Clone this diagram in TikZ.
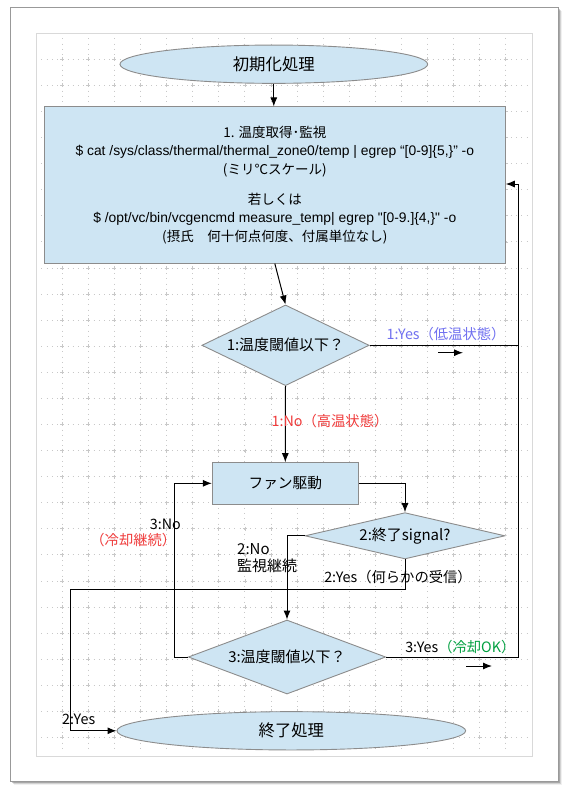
\documentclass[tikz,border=0pt]{standalone}
\usepackage{fontspec}
\setmainfont{Noto Sans CJK JP}
\newfontfamily\arialf{Liberation Sans}[Ligatures=TeXOff]
\usetikzlibrary{shapes.geometric,arrows.meta}
\definecolor{boxfill}{HTML}{CEE5F3}
\definecolor{boxdraw}{HTML}{8C8C8C}
\definecolor{gridc}{HTML}{C8C8C8}
\definecolor{yesblue}{HTML}{7070F0}
\definecolor{nored}{HTML}{F03C3C}
\definecolor{okgreen}{HTML}{00A040}
\begin{document}
\begin{tikzpicture}[x=1pt,y=-1pt,
  base/.style={draw=boxdraw, fill=boxfill, line width=0.9pt, inner sep=0pt},
  proc/.style={base, rectangle},
  term/.style={base, ellipse},
  dec/.style={base, diamond},
  arr/.style={line width=1pt, -{Latex[length=9pt,width=7pt]}},
  ln/.style={line width=1pt},
  lbl/.style={inner sep=0pt, font=\fontsize{14.3}{16}\selectfont},
  gridline/.style={gridc, line width=0.8pt, dash pattern=on 1pt off 4.216pt},
]
\useasboundingbox (0,0) rectangle (575,796);
\fill[white] (0,0) rectangle (575,796);
% page shadow
\foreach \i/\o in {1/0.30,2/0.20,3/0.12,4/0.06}{
  \fill[black,opacity=\o] (10+\i,7.3+\i) rectangle (558.3+\i,781+\i);
}
\draw[draw=black!40, fill=white, line width=1pt] (10,7.3) rectangle (558.3,781);
\draw[draw=black!15, line width=1pt] (36,33.3) rectangle (532.3,756);
% grid
\foreach \k in {0,...,17}{
  \draw[gridline] ({62.3+26.08*\k},38.44) -- ({62.3+26.08*\k},752);
}
\foreach \k in {0,...,26}{
  \draw[gridline] (41.44,{59.3+26.08*\k}) -- (528,{59.3+26.08*\k});
}
\foreach \i in {0,...,17}{
  \foreach \j in {0,...,26}{
    \draw[gridc, line width=0.7pt] ({62.3+26.08*\i-2},{59.3+26.08*\j}) -- ++(4,0)
      ({62.3+26.08*\i},{59.3+26.08*\j-2}) -- ++(0,4);
  }
}
% nodes
\node[term, minimum width=307.7pt, minimum height=38.3pt, font=\fontsize{16.4}{18}\selectfont] (start) at (273.8,64.2) {初期化処理};
\node[proc, minimum width=461pt, minimum height=156.2pt, align=center, font=\fontsize{13.5}{18.5}\selectfont] (box) at (274.8,185) {%
1. 温度取得･監視\\
{\arialf\fontsize{13.85}{18.5}\selectfont \$ cat /sys/class/thermal/thermal\_zone0/temp | egrep “[0-9]\{5,\}” -o}\\
(ミリ℃スケール)\\[11.5pt]
若しくは\\
{\arialf\fontsize{13.85}{18.5}\selectfont \$ /opt/vc/bin/vcgencmd measure\_temp| egrep "[0-9.]\{4,\}" -o}\\
(摂氏　何十何点何度、付属単位なし)};
\node[dec, minimum width=167.3pt, minimum height=80.7pt, shape aspect=2.07, font=\fontsize{15}{17}\selectfont] (d1) at (285.5,345.3) {1:温度閾値以下？};
\node[proc, minimum width=146pt, minimum height=41.3pt, font=\fontsize{14.7}{17}\selectfont] (fan) at (285.3,483.3) {ファン駆動};
\node[dec, minimum width=200pt, minimum height=46.3pt, shape aspect=4.32, font=\fontsize{15}{17}\selectfont] (d2) at (405,535.8) {2:終了signal?};
\node[dec, minimum width=197.4pt, minimum height=74pt, shape aspect=2.67, font=\fontsize{15}{17}\selectfont] (d3) at (287,657) {3:温度閾値以下？};
\node[term, minimum width=348.7pt, minimum height=38.3pt, font=\fontsize{16.3}{18}\selectfont] (end) at (291.3,730.8) {終了処理};
% helper points
\coordinate (rx) at (518.3,184);
\coordinate (c2) at (70.7,589.3);
\coordinate (c3) at (174.3,657);
\coordinate (a1s) at (438,352.7);
\coordinate (a1e) at (463,352.7);
\coordinate (a3s) at (466,666);
\coordinate (a3e) at (492,666);
% connectors
\draw[arr] (start.south) -- (start.south |- box.north);
\draw[arr] (box.south) -- (d1.north);
\draw[arr] (d1.east) -| (rx) -- (rx -| box.east);
\draw[arr] (d1.south) -- (fan.north);
\draw[arr] (fan.east) -| (d2.north);
\draw[arr] (d2.west) -| (d3.north);
\draw[arr] (d2.south) |- (c2) |- (end.west);
\draw[arr] (d3.west) -- (c3) |- (fan.west);
\draw[ln] (d3.east) -| (rx);
\draw[arr] (a1s) -- (a1e);
\draw[arr] (a3s) -- (a3e);
% labels
\node[lbl, text=yesblue] (l1y) at (446,334) {1:Yes（低温状態）};
\node[lbl, text=nored] (l1n) at (330,420.7) {1:No（高温状態）};
\node[lbl] (l3n) at (165.3,524) {3:No};
\node[lbl, text=nored] (l3n2) at (133.3,540) {（冷却継続）};
\node[lbl, align=left, anchor=west, font=\fontsize{15}{17.7}\selectfont] (l2n) at (237,558) {2:No\\監視継続};
\node[lbl] (l2y) at (398,576.7) {2:Yes（何らかの受信）};
\node[lbl] (l2y2) at (78.7,719.3) {2:Yes};
\node[lbl] (l3y) at (460.3,647.3) {3:Yes\textcolor{okgreen}{（冷却OK）}};
\end{tikzpicture}
\end{document}
